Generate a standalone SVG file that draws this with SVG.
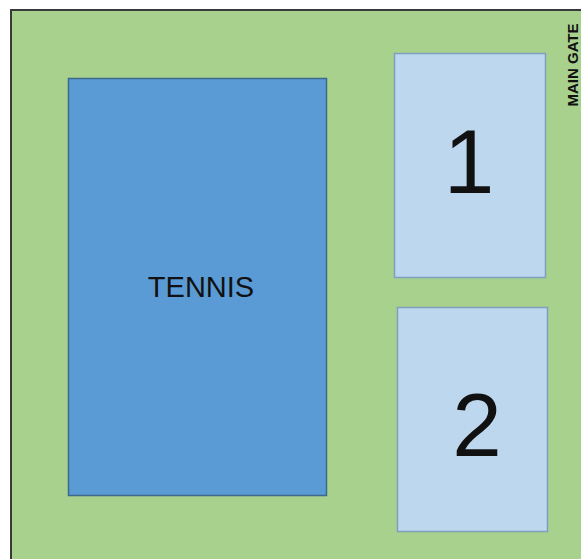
<svg xmlns="http://www.w3.org/2000/svg" width="581" height="559" viewBox="0 0 581 559">
<style>
text{font-family:"Liberation Sans",Arial,sans-serif;fill:#111}
.court{fill:#bdd7ee;stroke:#7f9fbf;stroke-width:1.5}
.num{text-anchor:middle}
</style>
<rect width="581" height="559" fill="#ffffff"/>
<g id="ground">
<rect x="11" y="10" width="580" height="560" fill="#a9d18e" stroke="#3a3a3a" stroke-width="2"/>
</g>
<g id="tennis">
<rect x="68.5" y="78.5" width="258" height="417" fill="#5b9bd5" stroke="#3d6a8a" stroke-width="1.5"/>
<text x="201" y="297" font-size="29" text-anchor="middle">TENNIS</text>
</g>
<g id="court1">
<rect class="court" x="394.5" y="53.5" width="151" height="224"/>
<text class="num" x="469" y="193" font-size="91">1</text>
</g>
<g id="court2">
<rect class="court" x="397.5" y="307.5" width="150" height="224"/>
<text class="num" x="477" y="456" font-size="89">2</text>
</g>
<g id="gate">
<text x="578" y="65" font-size="15" font-weight="bold" text-anchor="middle" transform="rotate(-90 578 65)">MAIN GATE</text>
</g>
</svg>
